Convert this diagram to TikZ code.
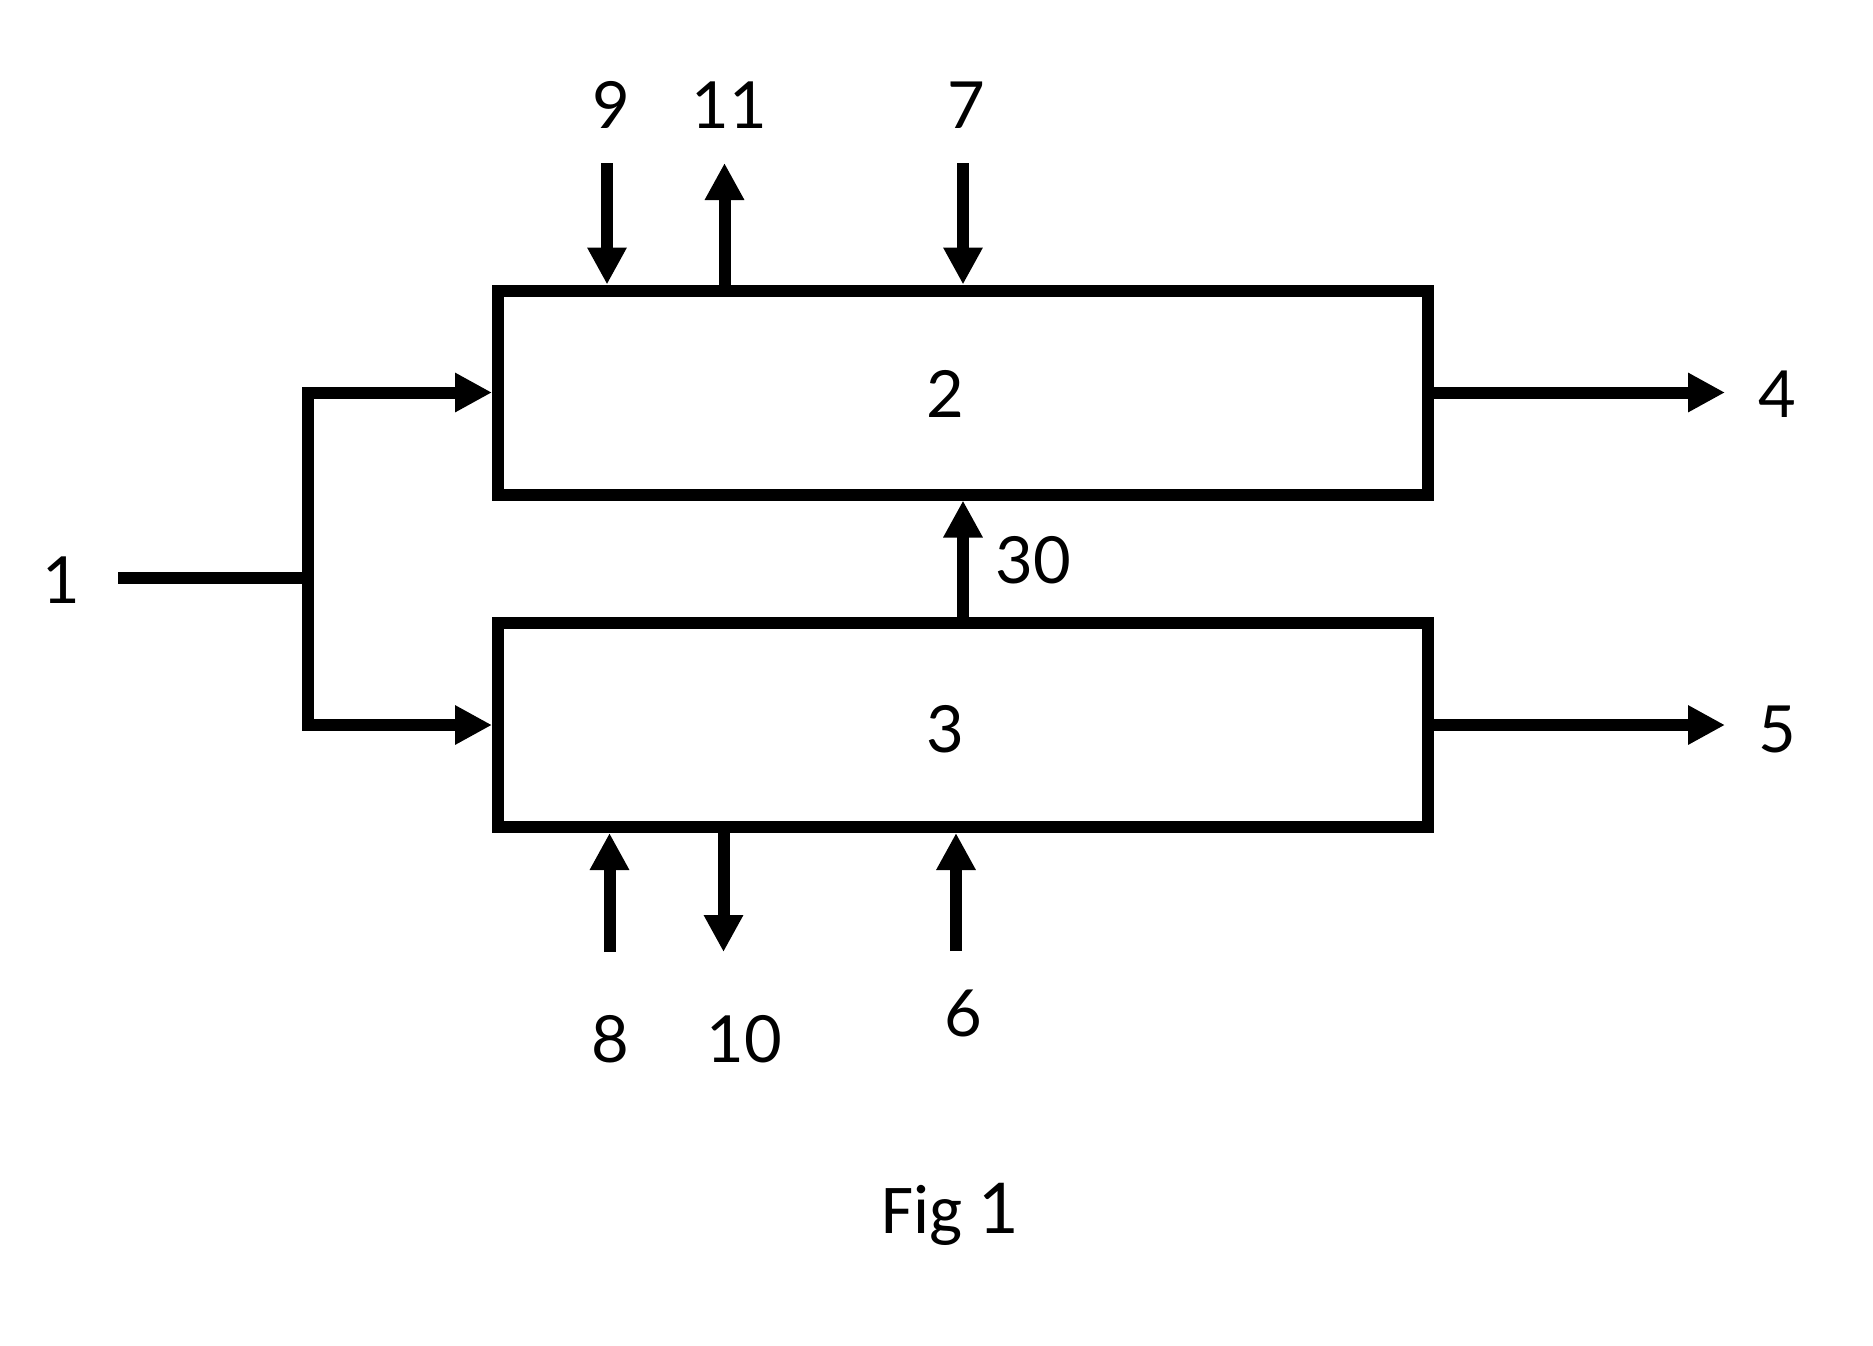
\documentclass[tikz,border=0pt]{standalone}
\usepackage{fontspec}
\setmainfont{Carlito}
\newfontfamily\tagfont{Lato}
\usetikzlibrary{arrows.meta}

\tikzset{
  unit/.style={draw, line width=12pt, minimum width=930pt, minimum height=204pt, inner sep=0pt},
  stream/.style={line width=12pt},
  flow/.style={stream, -{Triangle[length=37pt,width=37pt]}},
  tag/.style={inner sep=0pt, font=\tagfont\fontsize{65}{72}\selectfont},
}

\begin{document}
\begin{tikzpicture}[x=1pt,y=1pt,yscale=-1,xscale=1]
        \useasboundingbox (0,0) rectangle (1873,1345);

        %Shape: Rectangle [unit 2]
        \node[unit, label={[tag,xshift=-18pt,yshift=-1.5pt]center:2}] (u2) at (963,392.5) {};
        %Shape: Rectangle [unit 3]
        \node[unit, label={[tag,xshift=-18pt,yshift=-4pt]center:3}] (u3) at (963,725) {};

        %Straight Lines [feed]
        \coordinate (feed) at (118,578);
        \coordinate (split) at (308,578);
        \draw[stream] (feed) -- (split);
        \draw[flow] (split) |- (u2.west);
        \draw[flow] (split) |- (u3.west);

        %Straight Lines [top of unit 2]
        \coordinate (s9) at (607,163);
        \draw[flow] (s9) -- (s9 |- u2.north);
        \coordinate (s11) at (724.5,163);
        \draw[flow] (s11 |- u2.north) -- (s11);
        \coordinate (s7) at (963,163);
        \draw[flow] (s7) -- (u2.north);

        %Straight Lines [between units]
        \draw[flow] (u3.north) -- (u2.south);

        %Straight Lines [bottom of unit 3]
        \coordinate (s8) at (609.5,952);
        \draw[flow] (s8) -- (s8 |- u3.south);
        \coordinate (s10) at (723.5,952);
        \draw[flow] (s10 |- u3.south) -- (s10);
        \coordinate (s6) at (956,951);
        \draw[flow] (s6) -- (s6 |- u3.south);

        %Straight Lines [products]
        \coordinate (p4) at (1725,392.5);
        \draw[flow] (u2.east) -- (p4);
        \coordinate (p5) at (1725,725);
        \draw[flow] (u3.east) -- (p5);

        % Text Node
        \node[tag] (n1) at (61,580) {1};
        % Text Node
        \node[tag] (n9) at (611,105) {9};
        % Text Node
        \node[tag] (n11) at (729,105) {11};
        % Text Node
        \node[tag] (n7) at (966,105) {7};
        % Text Node
        \node[tag] (n4) at (1777.5,394) {4};
        % Text Node
        \node[tag] (n5) at (1777.5,729) {5};
        % Text Node
        \node[tag] (n30) at (1033,560) {30};
        % Text Node
        \node[tag] (n8) at (610,1039) {8};
        % Text Node
        \node[tag] (n10) at (744.5,1039) {10};
        % Text Node
        \node[tag] (n6) at (963.7,1013) {6};
        % Text Node
        \node[inner sep=0pt, anchor=base, font=\fontsize{70}{84}\selectfont] (fig) at (950,1233) {Fig \tagfont 1};

\end{tikzpicture}
\end{document}
